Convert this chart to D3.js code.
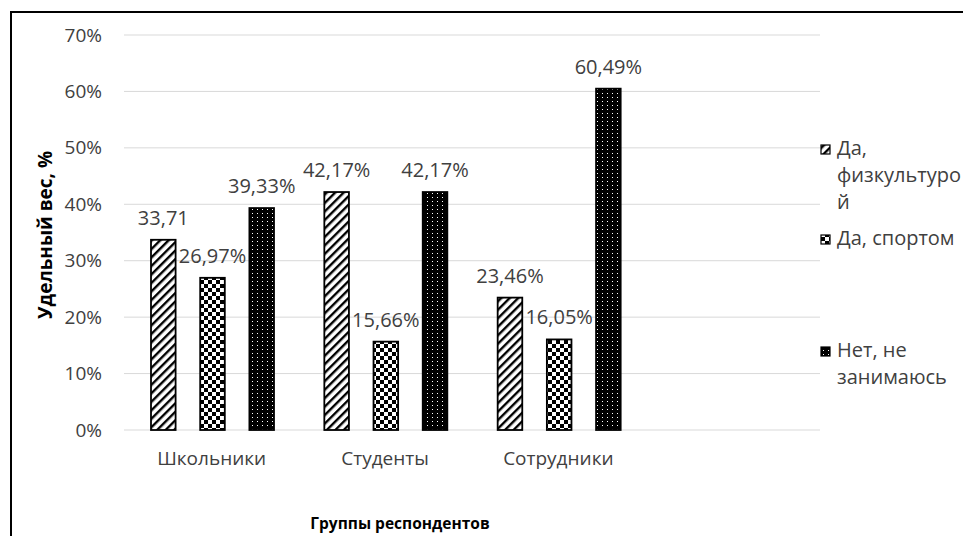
<html>
<script src="https://d3js.org/d3.v7.min.js"></script>
<style>
body { margin: 0; background: #fff; }
text { font-family: "Open Sans", sans-serif; fill: #404040; }
</style>
<body>
<svg id="chart" width="963" height="536"></svg>
<script>
// data
var groups = ["Школьники", "Студенты", "Сотрудники"];
var series = ["Да, физкультурой", "Да, спортом", "Нет, не занимаюсь"];
var legendLines = [["Да,", "физкультуро", "й"], ["Да, спортом"], ["Нет, не", "занимаюсь"]];
var fizra  = [33.71, 42.17, 23.46];
var sport  = [26.97, 15.66, 16.05];
var netNe  = [39.33, 42.17, 60.49];
var labelsFizra = ["33,71", "42,17%", "23,46%"];
var labelsSport = ["26,97%", "15,66%", "16,05%"];
var labelsNet   = ["39,33%", "42,17%", "60,49%"];
var yTicks = [0, 10, 20, 30, 40, 50, 60, 70];

var values = [fizra, sport, netNe];
var labels = [labelsFizra, labelsSport, labelsNet];

var svg = d3.select("#chart");

// patterns
var defs = svg.append("defs");
var p1 = defs.append("pattern").attr("id", "pat0").attr("patternUnits", "userSpaceOnUse")
  .attr("width", 6).attr("height", 6).attr("patternTransform", "rotate(45)");
p1.append("rect").attr("width", 6).attr("height", 6).attr("fill", "#fff");
p1.append("rect").attr("width", 2.4).attr("height", 6).attr("fill", "#000");

var p2 = defs.append("pattern").attr("id", "pat1").attr("patternUnits", "userSpaceOnUse")
  .attr("width", 8).attr("height", 8);
p2.append("rect").attr("width", 8).attr("height", 8).attr("fill", "#fff");
p2.append("rect").attr("width", 4).attr("height", 4).attr("fill", "#000");
p2.append("rect").attr("x", 4).attr("y", 4).attr("width", 4).attr("height", 4).attr("fill", "#000");

var p3 = defs.append("pattern").attr("id", "pat2").attr("patternUnits", "userSpaceOnUse")
  .attr("width", 5).attr("height", 4);
p3.append("rect").attr("width", 5).attr("height", 4).attr("fill", "#000");
p3.append("rect").attr("x", 2).attr("y", 1).attr("width", 1).attr("height", 1).attr("fill", "#fff");

// outer frame (runs off the right and bottom)
svg.append("rect").attr("x", 11).attr("y", 12).attr("width", 1000).attr("height", 600)
  .attr("fill", "none").attr("stroke", "#000").attr("stroke-width", 2);

var y = d3.scaleLinear().domain([0, 70]).range([430, 35]);
var x0 = d3.scaleBand().domain(groups).range([125, 645]);
var x1 = d3.scaleBand().domain(series).range([26, 149]).paddingInner(0.5);

// gridlines
svg.append("g").selectAll("line").data(yTicks).enter().append("line")
  .attr("x1", 124).attr("x2", 820)
  .attr("y1", function(d) { return y(d); }).attr("y2", function(d) { return y(d); })
  .attr("stroke", "#d9d9d9").attr("stroke-width", 1);

// y axis labels
var yAxis = d3.axisLeft(y).tickValues(yTicks).tickSize(0).tickPadding(0)
  .tickFormat(function(d) { return d + "%"; });
var ya = svg.append("g").attr("transform", "translate(102,0)").call(yAxis);
ya.select(".domain").remove();
ya.selectAll("text").attr("font-size", 19).attr("font-family", "Open Sans").attr("fill", "#404040");

// x axis labels
var xAxis = d3.axisBottom(x0).tickSize(0).tickPadding(0);
var xa = svg.append("g").attr("transform", "translate(0,451)").call(xAxis);
xa.select(".domain").remove();
xa.selectAll("text").attr("font-size", 19).attr("font-family", "Open Sans").attr("fill", "#404040");

// bars
series.forEach(function(s, si) {
  var g = svg.append("g");
  g.selectAll("rect").data(groups).enter().append("rect")
    .attr("x", function(d) { return x0(d) + x1(s); })
    .attr("y", function(d, i) { return y(values[si][i]); })
    .attr("width", x1.bandwidth())
    .attr("height", function(d, i) { return y(0) - y(values[si][i]); })
    .attr("fill", "url(#pat" + si + ")")
    .attr("stroke", "#000").attr("stroke-width", 1.8);
  g.selectAll("text").data(groups).enter().append("text")
    .attr("x", function(d) { return x0(d) + x1(s) + x1.bandwidth() / 2; })
    .attr("y", function(d, i) { return y(values[si][i]) - 15; })
    .attr("text-anchor", "middle").attr("font-size", 20)
    .text(function(d, i) { return labels[si][i]; });
});

// legend
var legendTop = [155, 245, 357];
series.forEach(function(s, si) {
  var g = svg.append("g").attr("transform", "translate(821," + legendTop[si] + ")");
  g.append("rect").attr("x", 0).attr("y", -10).attr("width", 9).attr("height", 9)
    .attr("fill", "url(#pat" + si + ")").attr("stroke", "#000").attr("stroke-width", 1.2);
  var t = g.append("text").attr("x", 16).attr("y", 0).attr("font-size", 20);
  legendLines[si].forEach(function(l, li) {
    t.append("tspan").attr("x", 16).attr("dy", li === 0 ? 0 : 27).text(l);
  });
});

// axis titles
svg.append("text").attr("transform", "translate(52,235) rotate(-90)")
  .attr("text-anchor", "middle").attr("font-size", 19).attr("font-weight", "bold")
  .style("fill", "#000").text("Удельный вес, %");
svg.append("text").attr("x", 400).attr("y", 529)
  .attr("text-anchor", "middle").attr("font-size", 15.5).attr("font-weight", "bold")
  .style("fill", "#000").text("Группы респондентов");
</script>
</body>
</html>
